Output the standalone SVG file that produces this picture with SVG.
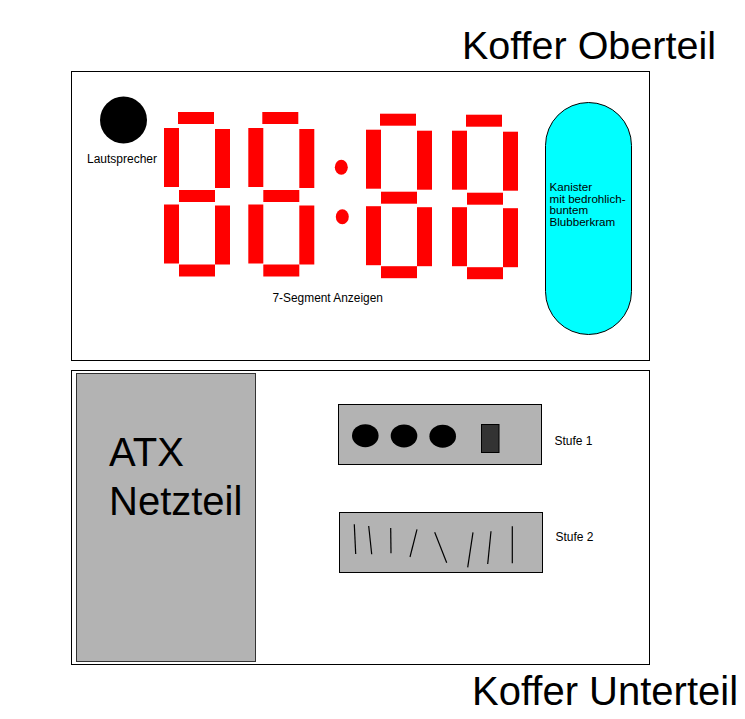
<svg xmlns="http://www.w3.org/2000/svg" xmlns:xlink="http://www.w3.org/1999/xlink" width="745" height="719" viewBox="0 0 745 719">
  <style>
    .frame { fill: #ffffff; stroke: #000000; stroke-width: 1; }
    .panel { fill: #b3b3b3; stroke: #000000; stroke-width: 1; }
    .seg { fill: #ff0000; }
    .lbl { font-family: "Liberation Sans", Arial, sans-serif; fill: #000000; }
    .knob { fill: #000000; }
    .slider { stroke: #000000; stroke-width: 1.2; fill: none; }
  </style>
  <defs>
    <!-- one seven-segment digit, origin at the upper-left segment's top-left corner -->
    <g id="digit">
      <rect class="seg" x="14" y="0" width="36" height="12"/>
      <rect class="seg" x="0" y="16" width="15" height="59"/>
      <rect class="seg" x="51" y="17" width="15" height="59"/>
      <rect class="seg" x="15" y="78" width="36" height="12"/>
      <rect class="seg" x="0" y="92.5" width="15" height="59"/>
      <rect class="seg" x="51" y="93.5" width="15" height="59"/>
      <rect class="seg" x="15" y="152.5" width="36" height="12"/>
    </g>
  </defs>

  <!-- case lid -->
  <g id="oberteil">
    <rect class="frame" x="71.5" y="71.5" width="578" height="289"/>
    <text class="lbl" x="462" y="59" font-size="39.5">Koffer Oberteil</text>
  </g>

  <g id="lautsprecher">
    <circle cx="123.5" cy="120" r="23.5" fill="#000000"/>
    <text class="lbl" x="87" y="163" font-size="12">Lautsprecher</text>
  </g>

  <g id="anzeigen">
    <use xlink:href="#digit" x="164" y="112"/>
    <use xlink:href="#digit" x="248.3" y="112"/>
    <ellipse class="seg" cx="341.3" cy="167.3" rx="6.5" ry="7.5"/>
    <ellipse class="seg" cx="342.3" cy="216.7" rx="6.5" ry="7.5"/>
    <use xlink:href="#digit" x="366" y="113.7"/>
    <use xlink:href="#digit" x="452" y="114.7"/>
    <text class="lbl" x="272.5" y="302" font-size="11.9">7-Segment Anzeigen</text>
  </g>

  <g id="kanister">
    <rect x="545.5" y="102.5" width="86" height="232" rx="43" ry="43" fill="#00ffff" stroke="#000000" stroke-width="1"/>
    <text class="lbl" font-size="11.6">
      <tspan x="549.5" y="191">Kanister</tspan>
      <tspan x="549.5" y="202.8">mit bedrohlich-</tspan>
      <tspan x="549.5" y="214.4">buntem</tspan>
      <tspan x="549.5" y="226">Blubberkram</tspan>
    </text>
  </g>

  <!-- case base -->
  <g id="unterteil">
    <rect class="frame" x="71.5" y="370.5" width="578" height="294"/>
    <text class="lbl" x="472" y="705" font-size="40">Koffer Unterteil</text>
  </g>

  <g id="netzteil">
    <rect x="76.5" y="373.5" width="179" height="288" fill="#b3b3b3" stroke="#333333" stroke-width="1"/>
    <text class="lbl" font-size="40">
      <tspan x="109" y="466">ATX</tspan>
      <tspan x="109" y="515">Netzteil</tspan>
    </text>
  </g>

  <g id="stufe1">
    <rect class="panel" x="338.5" y="404.5" width="203" height="60"/>
    <ellipse class="knob" cx="365.3" cy="435.7" rx="13.3" ry="11.5"/>
    <ellipse class="knob" cx="404" cy="435.9" rx="13.3" ry="11.5"/>
    <ellipse class="knob" cx="442.7" cy="436.2" rx="13.3" ry="11.5"/>
    <rect x="481.5" y="424.5" width="17.5" height="28" fill="#333333" stroke="#000000" stroke-width="1"/>
    <text class="lbl" x="554.5" y="444.5" font-size="12">Stufe 1</text>
  </g>

  <g id="stufe2">
    <rect class="panel" x="339.5" y="512.5" width="203" height="60"/>
    <line class="slider" x1="354.3" y1="524.3" x2="355.7" y2="554"/>
    <line class="slider" x1="368.7" y1="526" x2="371.7" y2="554.3"/>
    <line class="slider" x1="390.7" y1="528" x2="391" y2="553.3"/>
    <line class="slider" x1="417" y1="529.3" x2="410" y2="557"/>
    <line class="slider" x1="434.7" y1="532.3" x2="446.7" y2="562.7"/>
    <line class="slider" x1="473" y1="532.3" x2="467.7" y2="567.3"/>
    <line class="slider" x1="491" y1="531.3" x2="487.7" y2="564"/>
    <line class="slider" x1="512.3" y1="526.3" x2="512.3" y2="563.3"/>
    <text class="lbl" x="555.5" y="540.5" font-size="12">Stufe 2</text>
  </g>
</svg>
